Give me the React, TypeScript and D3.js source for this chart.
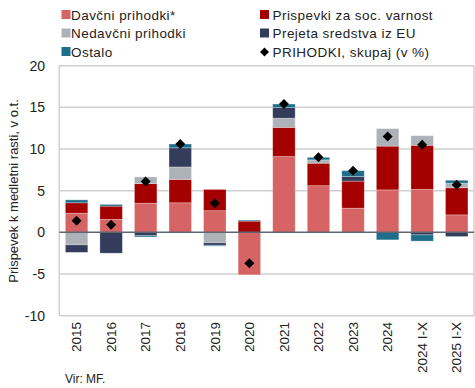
import * as d3 from 'd3';

const years = ['2015', '2016', '2017', '2018', '2019', '2020', '2021', '2022', '2023', '2024', '2024 I-X', '2025 I-X'];
const davcni = [2.3, 1.55, 3.5, 3.55, 2.6, -5.1, 9.1, 5.6, 2.9, 5.1, 5.15, 2.1];
const prispevki = [1.25, 1.6, 2.35, 2.8, 2.55, 1.35, 3.5, 2.7, 3.25, 5.25, 5.3, 3.25];
const nedavcni = [-1.5, 0, 0.8, 1.5, -1.25, 0, 1.1, 0.4, 0, 2.1, 1.15, 0.55];
const eu = [-0.9, -2.5, -0.4, 2.3, -0.3, 0, 1.3, 0, 0.55, 0, -0.3, -0.5];
const ostalo = [0.35, 0.2, -0.15, 0.45, -0.1, 0.12, 0.4, 0.3, 0.7, -0.9, -0.75, 0.35];
const total = [1.4, 0.9, 6.1, 10.6, 3.5, -3.7, 15.4, 9.0, 7.4, 11.5, 10.5, 5.7];
const yTicks = [-10, -5, 0, 5, 10, 15, 20];

const series = [
  { key: 'davcni', label: 'Davčni prihodki*', color: '#d66464', values: davcni },
  { key: 'prispevki', label: 'Prispevki za soc. varnost', color: '#a40000', values: prispevki },
  { key: 'nedavcni', label: 'Nedavčni prihodki', color: '#adb2b9', values: nedavcni },
  { key: 'eu', label: 'Prejeta sredstva iz EU', color: '#333d5b', values: eu },
  { key: 'ostalo', label: 'Ostalo', color: '#1d6e8a', values: ostalo },
];

const font = '"Liberation Sans", Arial, sans-serif';

export default function App() {
  const width = 475;
  const height = 388;
  const x0 = 59.3;
  const x1 = 474;
  const yTop = 65.7;
  const yBot = 315.7;

  const x = d3.scaleBand<string>().domain(years).range([x0, x1]).paddingInner(0.35).paddingOuter(0.175);
  const y = d3.scaleLinear().domain([-10, 20]).range([yBot, yTop]);

  const rows = years.map((yr, i) => {
    const r: Record<string, number | string> = { year: yr };
    series.forEach((s) => (r[s.key] = s.values[i]));
    return r;
  });
  const stacked = d3
    .stack<Record<string, number | string>>()
    .keys(series.map((s) => s.key))
    .value((d, k) => d[k] as number)
    .offset(d3.stackOffsetDiverging)(rows);

  const legendLeft = [series[0], series[2], series[4]];
  const legendRight = [series[1], series[3]];
  const legendRows = [15, 33.5, 52];
  const ls = 0.45;

  return (
    <div style={{ position: 'absolute', left: 0, top: 0 }}>
      <svg width={width} height={height} style={{ display: 'block', fontFamily: font }}>
        <rect x={0} y={0} width={width} height={height} fill="#fff" />
        {/* legend */}
        {legendLeft.map((s, i) => (
          <g key={s.key} transform={`translate(61.5, ${legendRows[i]})`}>
            <rect x={0} y={-5} width={9} height={9} fill={s.color} />
            <text x={9.5} y={0} dy="0.35em" fontSize={13.5} letterSpacing={ls} fill="#222">
              {s.label}
            </text>
          </g>
        ))}
        {legendRight.map((s, i) => (
          <g key={s.key} transform={`translate(260, ${legendRows[i]})`}>
            <rect x={0} y={-5} width={9} height={9} fill={s.color} />
            <text x={12.5} y={0} dy="0.35em" fontSize={13.5} letterSpacing={ls} fill="#222">
              {s.label}
            </text>
          </g>
        ))}
        <g transform={`translate(264.5, ${legendRows[2]})`}>
          <path d="M0,-4.5L4.5,0L0,4.5L-4.5,0Z" fill="#000" />
          <text x={8} y={0} dy="0.35em" fontSize={13.5} letterSpacing={ls} fill="#222">
            PRIHODKI, skupaj (v %)
          </text>
        </g>

        {/* grid */}
        {yTicks.map((t) => (
          <g key={t}>
            {t !== 0 && <line x1={x0} x2={x1} y1={y(t)} y2={y(t)} stroke="#cfcfcf" strokeWidth={1.5} />}
            <text x={45} y={y(t)} dy="0.35em" textAnchor="end" fontSize={14} fill="#222">
              {t}
            </text>
          </g>
        ))}
        <line x1={x0} x2={x0} y1={yTop} y2={yBot} stroke="#cfcfcf" strokeWidth={1.5} />
        <line x1={x1} x2={x1} y1={yTop} y2={yBot} stroke="#cfcfcf" strokeWidth={1.5} />

        {/* bars */}
        {stacked.map((layer, li) => (
          <g key={layer.key} fill={series[li].color}>
            {layer.map((d, i) =>
              d[1] - d[0] === 0 ? null : (
                <rect
                  key={i}
                  x={x(years[i])}
                  y={y(d[1])}
                  width={x.bandwidth()}
                  height={Math.abs(y(d[0]) - y(d[1]))}
                  stroke="#ffffff"
                  strokeOpacity={0.35}
                  strokeWidth={0.8}
                />
              )
            )}
          </g>
        ))}

        <line x1={x0} x2={x1} y1={y(0)} y2={y(0)} stroke="#5f6670" strokeWidth={1.5} />

        {/* total markers */}
        {total.map((v, i) => {
          const cx = (x(years[i]) ?? 0) + x.bandwidth() / 2;
          const cy = y(v);
          return <path key={i} d={`M${cx},${cy - 5}L${cx + 5},${cy}L${cx},${cy + 5}L${cx - 5},${cy}Z`} fill="#000" />;
        })}

        {/* x labels */}
        {years.map((yr) => {
          const cx = (x(yr) ?? 0) + x.bandwidth() / 2;
          return (
            <text
              key={yr}
              transform={`translate(${cx}, 322) rotate(-90)`}
              textAnchor="end"
              dy="0.35em"
              fontSize={13.5}
              fill="#222"
            >
              {yr}
            </text>
          );
        })}

        <text transform="translate(13, 191) rotate(-90)" textAnchor="middle" dy="0.35em" fontSize={13} fill="#222">
          Prispevek k medletni rasti, v o.t.
        </text>
        <text x={65} y={383} fontSize={12} fill="#222">
          Vir: MF.
        </text>
      </svg>
    </div>
  );
}
